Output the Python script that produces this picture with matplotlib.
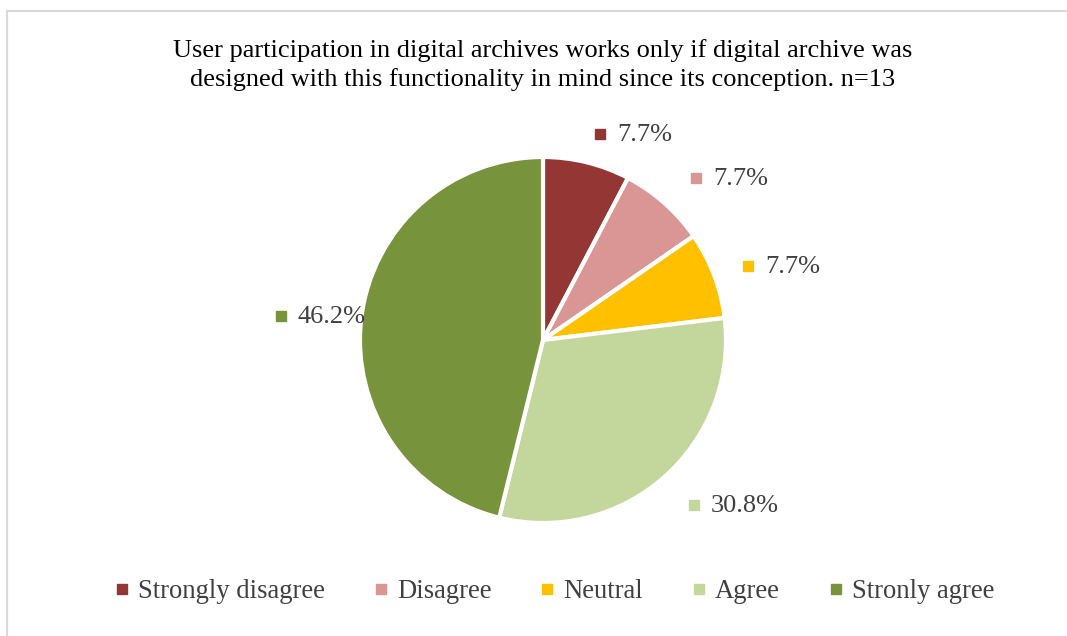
import numpy as np
import matplotlib.pyplot as plt
from matplotlib.lines import Line2D

# data
categories = ['Strongly disagree', 'Disagree', 'Neutral', 'Agree', 'Stronly agree']
counts = [1, 1, 1, 4, 6]
colors = ['#943634', '#D99694', '#FFC000', '#C3D69B', '#77933C']
title = ('User participation in digital archives works only if digital archive was\n'
         'designed with this functionality in mind since its conception. n=13')

W, H = 1067, 636
plt.rcParams['font.family'] = ['Liberation Serif', 'DejaVu Serif']

fig = plt.figure(figsize=(W / 100, H / 100), dpi=100)
ax = fig.add_axes([0, 0, 1, 1])
ax.set_xlim(0, W)
ax.set_ylim(H, 0)
ax.set_aspect('equal')
ax.axis('off')

# frame lines (chart area border, partly cropped)
ax.plot([7, 7], [11, H], color='#D9D9D9', lw=1.5)
ax.plot([7, W], [11, 11], color='#D9D9D9', lw=1.5)

cx, cy, r = 543, 340, 183
# y axis is inverted so counterclock=True gives clockwise drawing on screen
wedges, _ = ax.pie(counts, colors=colors, startangle=-90, counterclock=True,
                   center=(cx, cy), radius=r,
                   wedgeprops=dict(edgecolor='white', linewidth=3))
ax.set_xlim(0, W)
ax.set_ylim(H, 0)

# data labels with legend key; placement (pixel anchors of the key square)
label_pos = [(600, 134), (696, 178), (748, 266), (694, 505), (281, 316)]
total = sum(counts)
for (lx, ly), c, col in zip(label_pos, counts, colors):
    ax.plot(lx, ly, marker='s', ms=7, color=col, ls='none')
    ax.text(lx + 17, ly + 1, '%.1f%%' % (100.0 * c / total), fontsize=19,
            color='#404040', ha='left', va='center')

ax.text(cx, 65, title, fontsize=19, color='black', ha='center', va='center',
        linespacing=1.38)

handles = [Line2D([], [], marker='s', ms=7, color=col, ls='none') for col in colors]
fig.legend(handles, categories, loc='center', bbox_to_anchor=(554 / W, 1 - 592 / H),
           ncol=5, frameon=False, fontsize=19.2, handlelength=0.6,
           handletextpad=0.3, columnspacing=1.8, labelcolor='#404040')

fig.savefig('out.png', dpi=100)
